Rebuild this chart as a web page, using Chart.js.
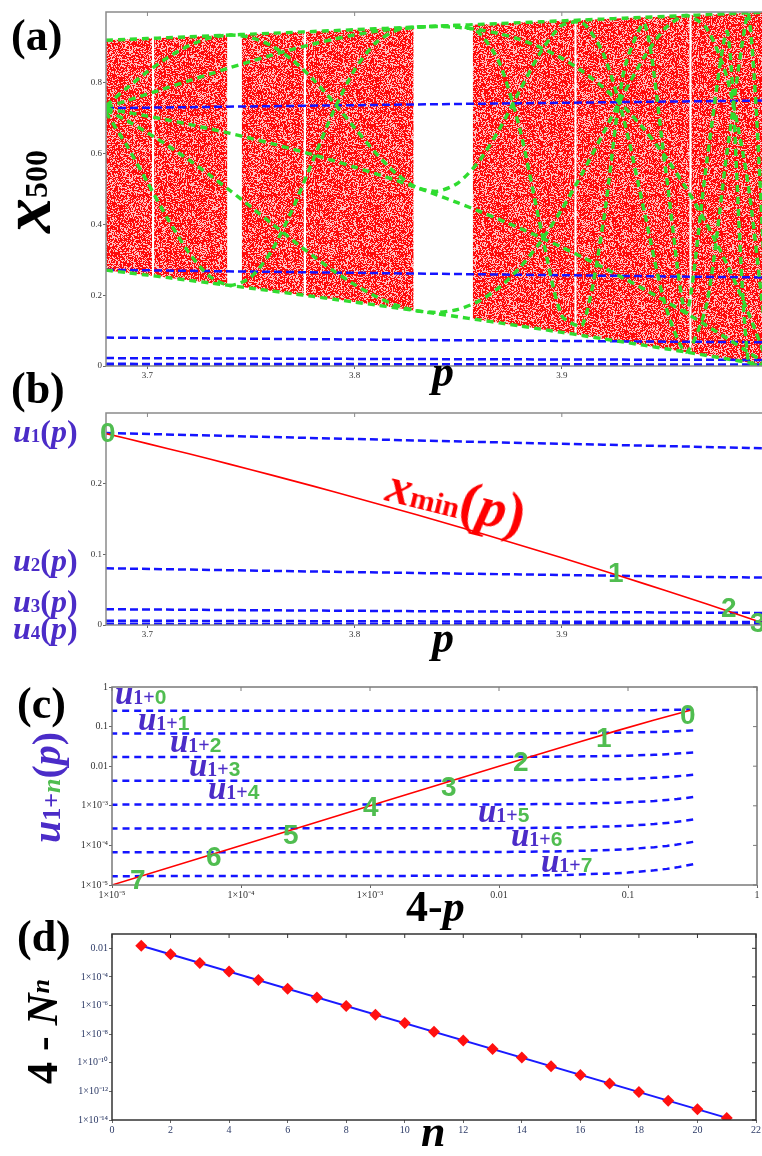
<!DOCTYPE html>
<html>
<head>
<meta charset="utf-8">
<script src="https://cdn.jsdelivr.net/npm/chart.js@4.4.1/dist/chart.umd.min.js"></script>
<style>
  html, body { margin: 0; padding: 0; width: 762px; height: 1156px; overflow: hidden; background: #fff; }
  canvas { position: absolute; left: 0; }
  .t { position: absolute; white-space: nowrap; line-height: 1; font-weight: bold;
       font-family: "Liberation Serif", "Times New Roman", serif; color: #000; }
  .rot { transform-origin: 0 0; transform: rotate(-90deg); }
  .pu { color: #4b2cc8; }
  .g { color: #50bd50; font-family: "Liberation Sans", Arial, sans-serif; font-size: 28px; }
  .s1 { font-size: 19px; font-style: normal; }
  .s2 { font-size: 20px; font-style: normal; }
  .g2 { color: #50bd50; font-family: "Liberation Sans", Arial, sans-serif; font-size: 21px; font-style: normal; }
</style>
</head>
<body>
<canvas id="ca" width="769" height="380" style="top:0"></canvas>
<canvas id="cb" width="769" height="260" style="top:380px"></canvas>
<canvas id="cc" width="762" height="240" style="top:660px"></canvas>
<canvas id="cd" width="762" height="230" style="top:910px"></canvas>

<!-- panel letters -->
<div class="t" style="left:11px;top:14px;font-size:44px">(a)</div>
<div class="t" style="left:11px;top:367px;font-size:44px">(b)</div>
<div class="t" style="left:17px;top:682px;font-size:44px">(c)</div>
<div class="t" style="left:17px;top:915px;font-size:44px">(d)</div>

<!-- axis titles -->
<div class="t rot" style="left:-8px;top:233px;font-size:70px"><i>x</i><span style="font-size:32px;vertical-align:3px">500</span></div>
<div class="t" style="left:432px;top:350px;font-size:44px"><i>p</i></div>
<div class="t" style="left:432px;top:616px;font-size:44px"><i>p</i></div>
<div class="t" style="left:406px;top:885px;font-size:44px">4-<i>p</i></div>
<div class="t" style="left:421px;top:1110px;font-size:44px"><i>n</i></div>
<div class="t rot pu" style="left:27px;top:843px;font-size:40px"><i>u</i><span style="font-size:26px">1+</span><i style="font-size:26px;color:#50bd50">n</i>(<i>p</i>)</div>
<div class="t rot" style="left:21px;top:1084px;font-size:44px">4 - <i>N</i><i style="font-size:26px;vertical-align:8px">n</i></div>

<!-- panel (b) labels -->
<div class="t pu" style="left:13px;top:415px;font-size:32px"><i>u</i><span class="s1">1</span>(<i>p</i>)</div>
<div class="t pu" style="left:13px;top:544px;font-size:32px"><i>u</i><span class="s1">2</span>(<i>p</i>)</div>
<div class="t pu" style="left:13px;top:585px;font-size:32px"><i>u</i><span class="s1">3</span>(<i>p</i>)</div>
<div class="t pu" style="left:13px;top:612px;font-size:32px"><i>u</i><span class="s1">4</span>(<i>p</i>)</div>
<div class="t" style="left:384px;top:453px;font-size:56px;color:#ff0000;transform-origin:0 47px;transform:rotate(14deg)"><i style="font-size:50px">x</i><span style="font-size:30px">min</span>(<i>p</i>)</div>
<div class="t g" style="left:100px;top:419px">0</div>
<div class="t g" style="left:608px;top:559px">1</div>
<div class="t g" style="left:721px;top:594px">2</div>
<div class="t g" style="left:750px;top:609px">3</div>

<!-- panel (c) labels -->
<div class="t pu" style="left:115px;top:677px;font-size:33px"><i>u</i><span class="s2">1+</span><span class="g2">0</span></div>
<div class="t pu" style="left:138px;top:703px;font-size:33px"><i>u</i><span class="s2">1+</span><span class="g2">1</span></div>
<div class="t pu" style="left:170px;top:725px;font-size:33px"><i>u</i><span class="s2">1+</span><span class="g2">2</span></div>
<div class="t pu" style="left:189px;top:749px;font-size:33px"><i>u</i><span class="s2">1+</span><span class="g2">3</span></div>
<div class="t pu" style="left:208px;top:772px;font-size:33px"><i>u</i><span class="s2">1+</span><span class="g2">4</span></div>
<div class="t pu" style="left:478px;top:795px;font-size:33px"><i>u</i><span class="s2">1+</span><span class="g2">5</span></div>
<div class="t pu" style="left:511px;top:819px;font-size:33px"><i>u</i><span class="s2">1+</span><span class="g2">6</span></div>
<div class="t pu" style="left:541px;top:845px;font-size:33px"><i>u</i><span class="s2">1+</span><span class="g2">7</span></div>
<div class="t g" style="left:680px;top:701px">0</div>
<div class="t g" style="left:596px;top:724px">1</div>
<div class="t g" style="left:513px;top:748px">2</div>
<div class="t g" style="left:441px;top:773px">3</div>
<div class="t g" style="left:363px;top:793px">4</div>
<div class="t g" style="left:283px;top:821px">5</div>
<div class="t g" style="left:206px;top:843px">6</div>
<div class="t g" style="left:130px;top:866px">7</div>

<script>
// ---- panel (a): envelope of the chaotic band, with the periodic windows left blank
const bandP  = [3.68, 3.70, 3.7022, 3.7027, 3.7032, 3.72, 3.7386, 3.742, 3.7455, 3.76, 3.7755, 3.776, 3.7765,
                3.80, 3.82, 3.8285, 3.843, 3.857, 3.88, 3.9062, 3.9066, 3.907, 3.94, 3.9617, 3.9621, 3.9625, 3.98, 4.0];
const bandLo = [0.2708, 0.2567, 0.2551, null, 0.2544, 0.2422, 0.2284, null, 0.2232, 0.2121, 0.2000, null, 0.1992,
                0.1805, 0.1642, 0.1571, null, 0.1330, 0.1129, 0.0895, null, 0.0887, 0.0582, 0.0376, null, 0.0368, 0.0198, 0];
const bandHi = [0.92, 0.925, 0.9256, null, 0.9258, 0.93, 0.9347, null, 0.9364, 0.94, 0.9439, null, 0.9441,
                0.95, 0.955, 0.9571, null, 0.9643, 0.97, 0.9766, null, 0.9768, 0.985, 0.9904, null, 0.9906, 0.995, 1.0];

// green curves: images of the critical point, c1 ... c7
const gridP = [3.68, 3.69, 3.70, 3.71, 3.72, 3.73, 3.74, 3.75, 3.76, 3.77, 3.78, 3.79, 3.80, 3.81, 3.82, 3.83, 3.84,
               3.85, 3.86, 3.87, 3.88, 3.89, 3.90, 3.91, 3.92, 3.93, 3.94, 3.95, 3.96, 3.97, 3.98, 3.99, 4.0];
const c1 = [0.92, 0.9225, 0.925, 0.9275, 0.93, 0.9325, 0.935, 0.9375, 0.94, 0.9425, 0.945, 0.9475, 0.95, 0.9525, 0.955,
            0.9575, 0.96, 0.9625, 0.965, 0.9675, 0.97, 0.9725, 0.975, 0.9775, 0.98, 0.9825, 0.985, 0.9875, 0.99, 0.9925,
            0.995, 0.9975, 1.0];
const c2 = [0.2708, 0.2638, 0.2567, 0.2495, 0.2422, 0.2348, 0.2273, 0.2197, 0.2121, 0.2043, 0.1965, 0.1885, 0.1805,
            0.1724, 0.1642, 0.1559, 0.1475, 0.1390, 0.1304, 0.1217, 0.1129, 0.1040, 0.0951, 0.0860, 0.0768, 0.0676,
            0.0582, 0.0488, 0.0392, 0.0296, 0.0198, 0.0100, 0];
const c3 = [0.7268, 0.7167, 0.7060, 0.6946, 0.6827, 0.6701, 0.6569, 0.6429, 0.6283, 0.6129, 0.5967, 0.5798, 0.5621,
            0.5436, 0.5242, 0.5039, 0.4827, 0.4607, 0.4376, 0.4136, 0.3886, 0.3626, 0.3355, 0.3073, 0.2780, 0.2476,
            0.2160, 0.1832, 0.1492, 0.1139, 0.0772, 0.0393, 0];
const c4 = [0.7308, 0.7493, 0.7681, 0.7869, 0.8058, 0.8245, 0.8430, 0.8609, 0.8781, 0.8945, 0.9096, 0.9234, 0.9353,
            0.9453, 0.9528, 0.9574, 0.9589, 0.9565, 0.9500, 0.9386, 0.9219, 0.8990, 0.8695, 0.8323, 0.7869, 0.7322,
            0.6672, 0.5911, 0.5026, 0.4005, 0.2837, 0.1507, 0];
const c5 = [0.7240, 0.6932, 0.6591, 0.6220, 0.5821, 0.5396, 0.4951, 0.4491, 0.4024, 0.3559, 0.3107, 0.2682, 0.2298,
            0.1971, 0.1719, 0.1561, 0.1515, 0.1600, 0.1834, 0.2229, 0.2795, 0.3531, 0.4426, 0.5456, 0.6574, 0.7707,
            0.8748, 0.9547, 0.9900, 0.9532, 0.8088, 0.5106, 0];
const c6 = [0.7353, 0.7848, 0.8313, 0.8722, 0.9049, 0.9267, 0.9349, 0.9278, 0.9042, 0.8642, 0.8096, 0.7439, 0.6726,
            0.6029, 0.5437, 0.5044, 0.4936, 0.5176, 0.5781, 0.6704, 0.7813, 0.8885, 0.9622, 0.9694, 0.8829, 0.6946,
            0.4315, 0.1707, 0.0393, 0.1770, 0.6155, 0.9971, 0];
const c7 = [0.7162, 0.6232, 0.5189, 0.4134, 0.3201, 0.2535, 0.2276, 0.2513, 0.3258, 0.4425, 0.5827, 0.7220, 0.8368,
            0.9121, 0.9477, 0.9574, 0.9598, 0.9613, 0.9415, 0.8551, 0.6630, 0.3854, 0.1420, 0.1161, 0.4053, 0.8337,
            0.9665, 0.5592, 0.1495, 0.5783, 0.9419, 0.0117, 0];

// blue curves: fixed point and its preimage chain u1 ... u8
const pU = [3.68, 3.76, 3.80, 3.84, 3.90, 3.92, 3.97, 3.99, 3.99999];
const fixedPt = [0.7283, 0.7340, 0.7368, 0.7396, 0.7436, 0.7449, 0.7481, 0.7494, 0.75];
const u1 = [0.2717, 0.2660, 0.2632, 0.2604, 0.2564, 0.2551, 0.2519, 0.2506, 0.25];
const u2 = [0.08029, 0.07660, 0.07486, 0.07317, 0.07075, 0.06997, 0.06808, 0.06735, 0.06699];
const u3 = [0.02232, 0.02081, 0.02010, 0.01943, 0.01848, 0.01818, 0.01746, 0.01718, 0.01704];
const u4 = [0.006101, 0.005564, 0.005318, 0.005086, 0.004762, 0.004660, 0.004416, 0.004323, 0.004278];
const u5 = [0.0016606, 0.0014820, 0.0014016, 0.0013264, 0.0012226, 0.0011901, 0.0011136, 0.0010847, 0.0010705];
const u6 = [4.515e-4, 3.943e-4, 3.690e-4, 3.455e-4, 3.136e-4, 3.037e-4, 2.806e-4, 2.719e-4, 2.677e-4];
const u7 = [1.227e-4, 1.049e-4, 9.71e-5, 9.00e-5, 8.04e-5, 7.75e-5, 7.07e-5, 6.82e-5, 6.69e-5];
const u8 = [3.334e-5, 2.789e-5, 2.555e-5, 2.343e-5, 2.062e-5, 1.976e-5, 1.780e-5, 1.708e-5, 1.673e-5];

// panel (c): x_min against 4-p
const redGap = [1e-5, 1e-4, 1e-3, 0.01, 0.02, 0.04, 0.08, 0.16, 0.32];
const redMin = [1e-5, 1e-4, 9.995e-4, 0.00995, 0.0198, 0.0392, 0.0768, 0.1475, 0.2708];

// panel (d)
const nVals = [1, 2, 3, 4, 5, 6, 7, 8, 9, 10, 11, 12, 13, 14, 15, 16, 17, 18, 19, 20, 21];
const gapN = [1.5e-2, 3.8e-3, 9.5e-4, 2.4e-4, 6.0e-5, 1.5e-5, 3.7e-6, 9.3e-7, 2.3e-7, 5.9e-8, 1.45e-8, 3.6e-9,
              9.1e-10, 2.3e-10, 5.7e-11, 1.4e-11, 3.5e-12, 8.9e-13, 2.2e-13, 5.6e-14, 1.4e-14];
const fitN = [1, 21];
const fitGap = [1.5e-2, 1.4e-14];

// tick labels
const pTicks = [3.7, 3.8, 3.9];
const pLabels = ['3.7', '3.8', '3.9'];
const xaTicks = [0, 0.2, 0.4, 0.6, 0.8];
const xaLabels = ['0', '0.2', '0.4', '0.6', '0.8'];
const xbTicks = [0, 0.1, 0.2];
const xbLabels = ['0', '0.1', '0.2'];
const logTicks = [1e-5, 1e-4, 1e-3, 0.01, 0.1, 1];
const logLabels = ['1×10⁻⁵', '1×10⁻⁴', '1×10⁻³', '0.01', '0.1', '1'];
const nTicks = [0, 2, 4, 6, 8, 10, 12, 14, 16, 18, 20, 22];
const nLabels = nTicks.map(String);
const dTicks = [1e-14, 1e-12, 1e-10, 1e-8, 1e-6, 1e-4, 0.01];
const dLabels = ['1×10⁻¹⁴', '1×10⁻¹²', '1×10⁻¹⁰', '1×10⁻⁸', '1×10⁻⁶', '1×10⁻⁴', '0.01'];

Chart.defaults.font.family = '"Liberation Serif", "Times New Roman", serif';
Chart.defaults.font.size = 9;
Chart.defaults.color = '#333';
Chart.defaults.animation = false;

// box round the plot, with mirrored ticks pointing inward on top and right
Chart.register({
  id: 'frame',
  afterDatasetsDraw(chart, args, o) {
    const { ctx, chartArea: a, scales: { x, y } } = chart;
    ctx.save();
    ctx.strokeStyle = o.color || '#888';
    ctx.lineWidth = o.width || 1.5;
    ctx.strokeRect(a.left, a.top, a.right - a.left, a.bottom - a.top);
    ctx.lineWidth = 1;
    ctx.beginPath();
    x.ticks.forEach(t => { const px = x.getPixelForValue(t.value); ctx.moveTo(px, a.top); ctx.lineTo(px, a.top + 4); });
    y.ticks.forEach(t => { const py = y.getPixelForValue(t.value); ctx.moveTo(a.right, py); ctx.lineTo(a.right - 4, py); });
    ctx.stroke();
    ctx.restore();
  }
});

// speckled red fill, like the dense cloud of iterates (fixed hash, no randomness)
function speckle(density) {
  const c = document.createElement('canvas');
  c.width = c.height = 128;
  const g = c.getContext('2d');
  const img = g.createImageData(128, 128);
  for (let j = 0; j < 128; j++) {
    for (let i = 0; i < 128; i++) {
      let h = Math.imul(i, 374761393) + Math.imul(j, 668265263);
      h = Math.imul(h ^ (h >>> 13), 1274126177);
      h ^= h >>> 16;
      const k = (j * 128 + i) * 4;
      const on = (h & 255) < density * 256;
      img.data[k] = 255;
      img.data[k + 1] = on ? 10 : 190;
      img.data[k + 2] = on ? 10 : 190;
      img.data[k + 3] = 255;
    }
  }
  g.putImageData(img, 0, 0);
  return g.createPattern(c, 'repeat');
}

function axis(kind, type, min, max, ticks, labels, fit, size, color) {
  return {
    type, min, max,
    afterFit: s => { if (kind === 'x') s.height = fit; else s.width = fit; },
    afterBuildTicks: s => { s.ticks = ticks.map(v => ({ value: v })); },
    border: { display: false },
    grid: { drawOnChartArea: false, tickLength: 3, color: '#666' },
    ticks: { padding: 1, autoSkip: false, maxRotation: 0, color: color || '#333',
             font: { size }, callback: (v, i) => labels[i] }
  };
}

const pts = (xs, ys) => xs.map((x, i) => ({ x, y: ys[i] }));
const line = (data, color, width, dash, order, extra) => Object.assign({
  data, borderColor: color, borderWidth: width, borderDash: dash, pointRadius: 0,
  fill: false, tension: 0, order }, extra || {});

const BLUE = '#1414ff';
const GREEN = '#30dc30';
const base = {
  type: 'line',
  options: {
    responsive: false, events: [],
    plugins: { legend: { display: false }, tooltip: { enabled: false } }
  }
};

// ---- (a)
new Chart(document.getElementById('ca'), {
  ...base,
  data: {
    datasets: [
      ...[c1, c2, c3, c4, c5, c6, c7].map(c => line(pts(gridP, c), GREEN, 3.4, [7, 5], 0, { tension: 0.25 })),
      ...[fixedPt, u1, u2, u3, u4, u5, u6].map(u => line(pts(pU, u), BLUE, 2.5, [8, 4], 1)),
      line(pts(bandP, bandLo), 'rgba(0,0,0,0)', 0, [], 2),
      line(pts(bandP, bandHi), 'rgba(0,0,0,0)', 0, [], 2, { fill: '-1', backgroundColor: speckle(0.62) })
    ]
  },
  options: {
    ...base.options,
    layout: { padding: { top: 12, right: 0, left: 0, bottom: 0 } },
    plugins: { ...base.options.plugins, frame: { color: '#8a8a8a', width: 1.5 } },
    scales: {
      x: axis('x', 'linear', 3.68, 4.0, pTicks, pLabels, 14, 9),
      y: axis('y', 'linear', 0, 1, xaTicks, xaLabels, 106, 9)
    }
  }
});

// ---- (b)
new Chart(document.getElementById('cb'), {
  ...base,
  data: {
    datasets: [
      line(pts(gridP, c2), '#ff0000', 1.6, [], 0),
      ...[u1, u2, u3, u4, u5, u6].map(u => line(pts(pU, u), BLUE, 2.5, [8, 4], 1))
    ]
  },
  options: {
    ...base.options,
    layout: { padding: { top: 33, right: 0, left: 0, bottom: 0 } },
    plugins: { ...base.options.plugins, frame: { color: '#8a8a8a', width: 1.5 } },
    scales: {
      x: axis('x', 'linear', 3.68, 4.0, pTicks, pLabels, 15, 9),
      y: axis('y', 'linear', 0, 0.3, xbTicks, xbLabels, 106, 9)
    }
  }
});

// ---- (c)
const gapU = pU.map(p => 4 - p);
new Chart(document.getElementById('cc'), {
  ...base,
  data: {
    datasets: [
      line(pts(redGap, redMin), '#ff0000', 1.6, [], 0),
      ...[u1, u2, u3, u4, u5, u6, u7, u8].map(u => line(pts(gapU, u), BLUE, 2.5, [7, 5], 1))
    ]
  },
  options: {
    ...base.options,
    layout: { padding: { top: 27, right: 5, left: 0, bottom: 0 } },
    plugins: { ...base.options.plugins, frame: { color: '#7a7a7a', width: 1.5 } },
    scales: {
      x: axis('x', 'logarithmic', 1e-5, 1, logTicks, logLabels, 15, 10),
      y: axis('y', 'logarithmic', 1e-5, 1, logTicks, logLabels, 112, 10)
    }
  }
});

// ---- (d)
new Chart(document.getElementById('cd'), {
  ...base,
  data: {
    datasets: [
      line(pts(nVals, gapN), 'rgba(0,0,0,0)', 0, [], 0, {
        pointRadius: 6, pointStyle: 'rectRot', pointBackgroundColor: '#ff1010', pointBorderWidth: 0 }),
      line(pts(fitN, fitGap), '#1a1aff', 2, [], 1)
    ]
  },
  options: {
    ...base.options,
    layout: { padding: { top: 24, right: 5, left: 0, bottom: 0 } },
    plugins: { ...base.options.plugins, frame: { color: '#333', width: 1.5 } },
    scales: {
      x: axis('x', 'linear', 0, 22, nTicks, nLabels, 20, 10, '#2c3a66'),
      y: axis('y', 'logarithmic', 1e-14, 0.1, dTicks, dLabels, 112, 10, '#2c3a66')
    }
  }
});
</script>
</body>
</html>
